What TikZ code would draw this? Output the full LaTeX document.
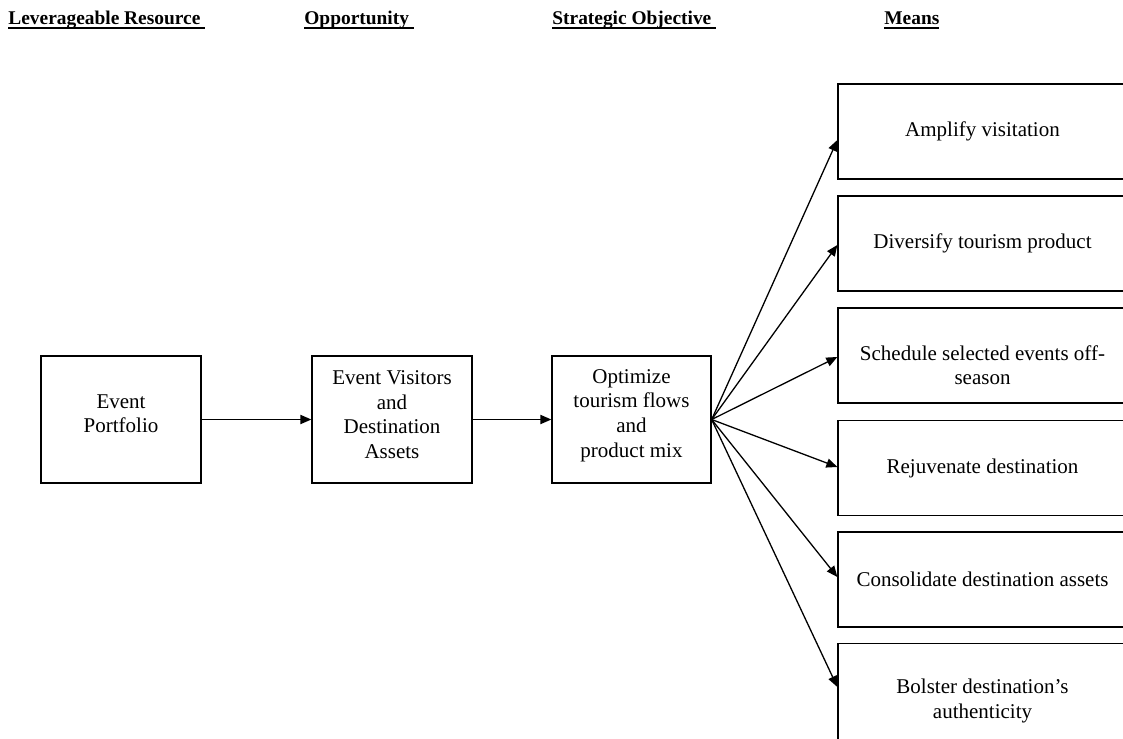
\documentclass[tikz,border=0pt]{standalone}
\usepackage{fontspec}
\setmainfont{Liberation Serif}
\usetikzlibrary{arrows.meta,calc}
\newlength\hdrw
\newcommand\hdrul[1]{\settowidth\hdrw{#1}\rlap{\rule[-2.1pt]{\hdrw}{1.2pt}}#1}
\begin{document}
\begin{tikzpicture}[x=0.5pt,y=-0.5pt,
  box/.style={draw,line width=0.65pt,align=center,inner sep=0pt,
    font=\fontsize{10.5}{12.3}\selectfont},
  leftbox/.style={box,minimum width=80pt,minimum height=63.5pt},
  meansbox/.style={box,minimum width=144.5pt,minimum height=47.5pt},
  hdr/.style={anchor=base west,inner sep=0pt,font=\fontsize{9.7}{12}\selectfont\bfseries},
  arr/.style={line width=0.65pt,-{Triangle[length=5.5pt,width=4.6pt]}}]
\useasboundingbox (0,0) rectangle (1123,738);

% headers
\node[hdr] (h1) at (8,25) {\hdrul{Leverageable Resource\ }};
\node[hdr] (h2) at (304,25) {\hdrul{Opportunity\ }};
\node[hdr] (h3) at (552,25) {\hdrul{Strategic Objective\ }};
\node[hdr] (h4) at (884,25) {\hdrul{Means}};

% main chain
\node[leftbox,text depth=6pt] (ep) at (121,419.5) {Event\\Portfolio};
\node[leftbox,text depth=5pt] (op) at (392,419.5) {Event Visitors\\and\\Destination\\Assets};
\node[leftbox,minimum width=79.5pt,text depth=6.3pt] (so) at (631.5,419.5) {Optimize\\tourism flows\\and\\product mix};

% means
\node[meansbox] (m1) at (982.5,131.5) {Amplify visitation};
\node[meansbox] (m2) at (982.5,243.5) {Diversify tourism product};
\node[meansbox,text height=29.3pt] (m3) at (982.5,355.5) {Schedule selected events off-\\season};
\node[meansbox] (m4) at (982.5,468) {Rejuvenate destination};
\node[meansbox] (m5) at (982.5,579.5) {Consolidate destination assets};
\node[meansbox,minimum height=50pt,text height=26.8pt] (m6) at (982.5,693.5) {Bolster destination’s\\authenticity};

% connectors
\draw[arr] (ep) -- (op);
\draw[arr] (op) -- (so);
\draw[arr] (so.east) -- ($(m1.west)+(0,8.5)$);
\draw[arr] (so.east) -- ($(m2.west)+(0,1.5)$);
\draw[arr] (so.east) -- ($(m3.west)+(0,1.5)$);
\draw[arr] (so.east) -- ($(m4.west)+(0,-1)$);
\draw[arr] (so.east) -- ($(m5.west)+(0,-2.5)$);
\draw[arr] (so.east) -- ($(m6.west)+(0,-6.5)$);
\end{tikzpicture}
\end{document}
